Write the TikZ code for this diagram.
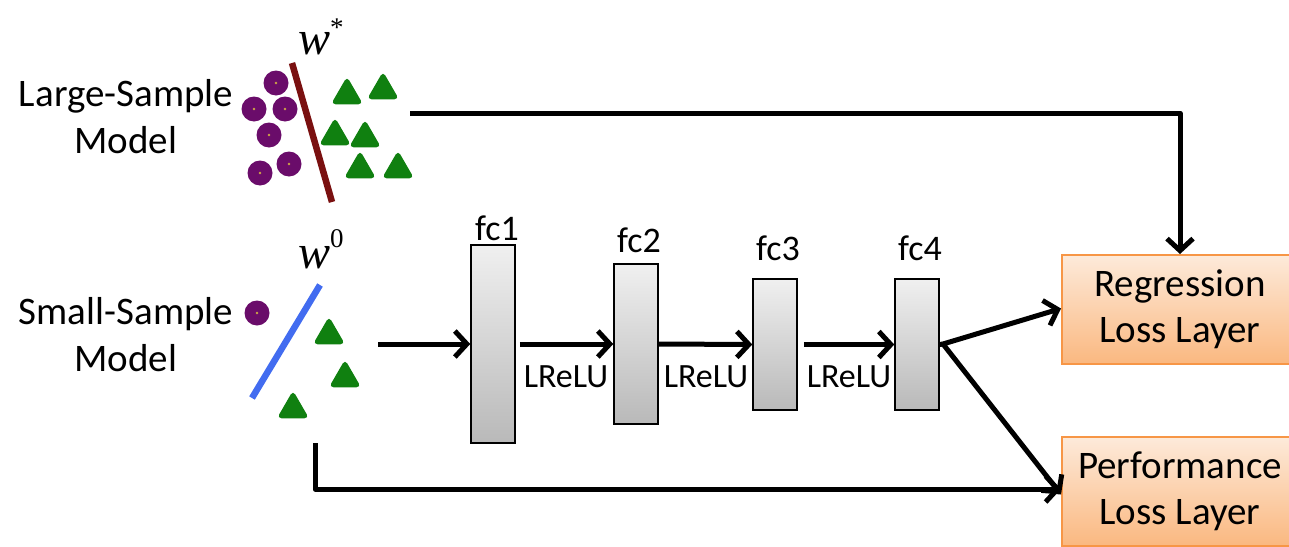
\documentclass[tikz,border=0pt]{standalone}
\usepackage{fontspec}
\setmainfont{Carlito}
\newfontfamily\wfont{Liberation Serif}
\usetikzlibrary{arrows.meta,shapes.geometric}

\definecolor{dotpurple}{RGB}{106,12,106}
\definecolor{dotcore}{RGB}{205,165,70}
\definecolor{trigreen}{RGB}{16,128,16}
\definecolor{sepred}{RGB}{122,16,16}
\definecolor{sepblue}{RGB}{66,108,240}
\definecolor{lossedge}{RGB}{247,150,70}
\definecolor{losstop}{RGB}{253,234,218}
\definecolor{lossbot}{RGB}{250,184,128}

\tikzset{
  lbl/.style={font=\fontsize{39}{47}\selectfont, align=center, inner sep=0pt},
  layername/.style={font=\fontsize{36}{40}\selectfont, anchor=base, inner sep=0pt},
  actname/.style={font=\fontsize{34}{38}\selectfont, anchor=base, inner sep=0pt},
  fcbox/.style={draw=black, line width=1.5pt, top color=gray!12, bottom color=gray!55,
    minimum width=44pt, inner sep=0pt},
  lossbox/.style={draw=lossedge, line width=2pt, top color=losstop, bottom color=lossbot,
    minimum width=236pt, minimum height=109pt, align=center,
    font=\fontsize{39}{46}\selectfont, inner sep=0pt},
  dot/.style={circle, fill=dotpurple, minimum size=25pt, inner sep=0pt,
    path picture={\fill[dotcore] (path picture bounding box.center) circle (1.3pt);}},
  tri/.style={regular polygon, regular polygon sides=3, fill=trigreen,
    minimum size=37pt, inner sep=0pt, rounded corners=4.5pt},
  arr/.style={line width=5pt, -{Straight Barb[length=12pt, width=26pt, line width=5pt]}},
  link/.style={line width=5pt},
}

\begin{document}
\begin{tikzpicture}[x=1pt, y=-1pt]
\useasboundingbox (0,0) rectangle (1289,546);
\clip (0,0) rectangle (1289,546);

% ---- large-sample classifier ----
\node[lbl] (large) at (126,117) {Large-Sample\\Model};
\node[inner sep=0pt, anchor=base west] (wstar) at (298,54)
  {\wfont\itshape\fontsize{48}{48}\selectfont w\upshape\raisebox{18pt}{\fontsize{27}{27}\selectfont *}};
\draw[sepred, line width=6.5pt] (292,63) -- (332,202);
\node[dot] (p1) at (276,83) {};
\node[dot] (p2) at (254,109) {};
\node[dot] (p3) at (285,109) {};
\node[dot] (p4) at (269,135) {};
\node[dot] (p5) at (260,173) {};
\node[dot] (p6) at (289,164) {};
\node[tri] (g1) at (347,95) {};
\node[tri] (g2) at (383,90) {};
\node[tri] (g3) at (335,136) {};
\node[tri] (g4) at (365,138) {};
\node[tri] (g5) at (360,169) {};
\node[tri] (g6) at (398,169) {};

% ---- small-sample classifier ----
\node[lbl] (small) at (126,335) {Small-Sample\\Model};
\node[inner sep=0pt, anchor=base west] (wzero) at (298,268)
  {\wfont\itshape\fontsize{48}{48}\selectfont w\upshape\raisebox{21pt}{\fontsize{27}{27}\selectfont 0}};
\draw[sepblue, line width=6.5pt] (320,285) -- (252,398);
\node[dot] (q1) at (257,313) {};
\node[tri] (h1) at (329,335) {};
\node[tri] (h2) at (345,378) {};
\node[tri] (h3) at (293,409) {};

% ---- regressor layers ----
\node[fcbox, minimum height=198pt] (fc1) at (493,344) {};
\node[fcbox, minimum height=160pt] (fc2) at (636,344) {};
\node[fcbox, minimum height=131pt] (fc3) at (775,344.5) {};
\node[fcbox, minimum height=131pt] (fc4) at (917,344.5) {};
\node[layername] (fc1t) at (497,240) {fc1};
\node[layername] (fc2t) at (639,252) {fc2};
\node[layername] (fc3t) at (778,260) {fc3};
\node[layername] (fc4t) at (920,260) {fc4};
\node[actname] (a1) at (566,387) {LReLU};
\node[actname] (a2) at (706,387) {LReLU};
\node[actname] (a3) at (849,387) {LReLU};

% ---- loss layers ----
\node[lossbox] (reg) at (1180,309.5) {Regression\\Loss Layer};
\node[lossbox] (perf) at (1180,491.5) {Performance\\Loss Layer};

% ---- connectors ----
\coordinate (inS) at (378,344);
\coordinate (inL) at (410,113);
\coordinate (inB) at (315,443);
\coordinate (fork) at (943,344);

\draw[arr] (inS) -- (fc1.west);
\draw[arr, shorten <=4pt] (fc1.east) -- (fc2.west);
\draw[arr] (fc2.east) -- (fc3.west);
\draw[arr, shorten <=6pt] (fc3.east) -- (fc4.west);
\draw[link] (fc4.east) -- (fork);
\draw[arr, line join=miter] (fork) -- ([yshift=1pt]reg.west);
\draw[arr] (fork) -- ([yshift=-3pt]perf.west);
\draw[arr, line join=round] (inL) -| (reg.north);
\draw[arr, line join=round] (inB) |- ([yshift=2.5pt]perf.west);
\end{tikzpicture}
\end{document}
